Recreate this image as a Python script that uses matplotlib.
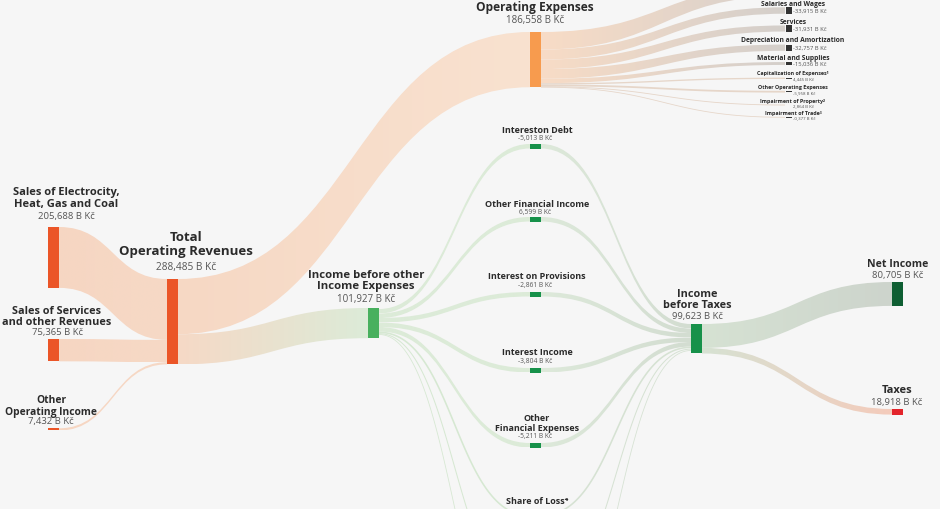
import matplotlib
matplotlib.use('Agg')
import matplotlib.pyplot as plt
import numpy as np
from matplotlib.path import Path
from matplotlib.patches import PathPatch, Rectangle
from matplotlib.colors import to_rgba

plt.rcParams['font.family'] = ['Open Sans', 'DejaVu Sans']

# values in B Kč
revenue_labels = ['Sales of Electrocity,\nHeat, Gas and Coal', 'Sales of Services\nand other Revenues',
                  'Other\nOperating Income']
revenue_values = [205.688, 75.365, 7.432]
total_revenues = 288.485
operating_expenses = 186.558
income_before_other = 101.927

expense_labels = ['Salaries and Wages', 'Services', 'Depreciation and Amortization', 'Material and Supplies',
                  'Capitalization of Expenses¹', 'Other Operating Expenses', 'Impairment of Property²',
                  'Impairment of Trade³']
expense_values = [-33.915, -31.931, -32.757, -15.036, 4.445, -5.958, 2.864, -0.377]

financial_labels = ['Intereston Debt', 'Other Financial Income', 'Interest on Provisions', 'Interest Income',
                    'Other\nFinancial Expenses']
financial_values = [-5.013, 6.599, -2.861, -3.804, -5.211]

income_before_taxes = 99.623
net_income = 80.705
taxes = 18.918

# ---- layout (pixels) ----
K = 0.296       # px per B Kč, main flows
K2 = 0.19       # px per B Kč, expense column
BG = '#f6f6f6'
LABEL = '#2b2b2b'
VALUE = '#555555'

fig = plt.figure(figsize=(9.4, 5.1), dpi=100, facecolor=BG)
ax = fig.add_axes([0, 0, 1, 1])
ax.set_facecolor(BG)
ax.axis('off')


def fmt(v):
    return f'{v:.3f}'.replace('.', ',') + ' B Kč'


def bez(x0, y0, x1, y1, n=80):
    t = np.linspace(0, 1, n)
    xm = (x0 + x1) / 2
    bx = (1-t)**3*x0 + 3*(1-t)**2*t*xm + 3*(1-t)*t**2*xm + t**3*x1
    by = (1-t)**3*y0 + 3*(1-t)**2*t*y0 + 3*(1-t)*t**2*y1 + t**3*y1
    return bx, by


def band(x0, y0a, y0b, x1, y1a, y1b, c0, c1):
    w = max(y0b - y0a, y1b - y1a)
    if w < 2:
        bx, by = bez(x0, (y0a+y0b)/2, x1, (y1a+y1b)/2)
        mid = (np.array(to_rgba(c0)) + np.array(to_rgba(c1))) / 2
        ax.plot(bx, by, color=mid, lw=max(w, 0.6)*0.72, zorder=1, solid_capstyle='butt')
        return
    xm = (x0 + x1) / 2
    verts = [(x0, y0a), (xm, y0a), (xm, y1a), (x1, y1a), (x1, y1b), (xm, y1b), (xm, y0b), (x0, y0b), (x0, y0a)]
    codes = [Path.MOVETO, Path.CURVE4, Path.CURVE4, Path.CURVE4, Path.LINETO,
             Path.CURVE4, Path.CURVE4, Path.CURVE4, Path.CLOSEPOLY]
    patch = PathPatch(Path(verts, codes), facecolor='none', edgecolor='none')
    ax.add_patch(patch)
    g = np.linspace(0, 1, 256)[:, None]
    img = (np.array(to_rgba(c0))*(1-g) + np.array(to_rgba(c1))*g)[None, :, :]
    ys = [y0a, y0b, y1a, y1b]
    im = ax.imshow(img, extent=[x0, x1, max(ys), min(ys)], aspect='auto', zorder=1, interpolation='bilinear')
    im.set_clip_path(patch)


def node(x, y, h, color, w=11):
    ax.add_patch(Rectangle((x, y), w, h, facecolor=color, edgecolor='none', zorder=3))


# columns
X_REV, X_TOR, X_IBO, X_MID, X_IBT, X_OUT, X_EXP = 48, 167, 368, 530, 691, 892, 785
W = 11

# revenues -> total
rev_tops = [228, 340, 429.3]
tor_top = 280
cur = tor_top
for top, v in zip(rev_tops, revenue_values):
    h = v * K
    band(X_REV + W, top, top + h, X_TOR, cur, cur + h, '#f6d6c2', '#f6d9c6')
    node(X_REV, top, h, '#eb5527')
    cur += h
node(X_TOR, tor_top, total_revenues * K, '#eb5527')

# total -> operating expenses / income before other
opex_top = 33
ibo_top = 309
h_opex = operating_expenses * K
h_ibo = income_before_other * K
band(X_TOR + W, tor_top, tor_top + h_opex, X_MID, opex_top, opex_top + h_opex, '#f6d8c4', '#f9e2d0')
band(X_TOR + W, tor_top + h_opex, tor_top + h_opex + h_ibo, X_IBO, ibo_top, ibo_top + h_ibo,
     '#f6d9c6', '#dcebd8')
node(X_MID, opex_top, h_opex, '#f79b4e')
node(X_IBO, ibo_top, h_ibo, '#48b05e')

# operating expenses -> items
exp_centers = [11.5, 29.5, 48.7, 64.5, 79.3, 92.7, 106, 118.3]
rest = operating_expenses - sum(abs(v) for v in expense_values)   # items above the visible area
cur = opex_top
band(X_MID + W, cur, cur + rest * K, X_EXP, -14, -14 + rest * K2, '#f8dcc6', '#d6d0cc')
cur += rest * K
for c, v in zip(exp_centers, expense_values):
    hs = abs(v) * K
    ht = max(abs(v) * K2, 0.8)
    band(X_MID + W, cur, cur + hs, X_EXP, c - ht/2, c + ht/2, '#f8dcc6', '#d4cfcb')
    node(X_EXP + 1, c - ht/2, ht, '#333333', w=5.5)
    cur += hs

# income before other -> financial items -> income before taxes
fin_tops = [145, 218, 293, 369, 444]
fin_h = [max(abs(v) * K, 4.5) for v in financial_values]
ibt_top = 325
h_ibt = income_before_taxes * K
cs, ct = ibo_top + 1, ibt_top
for top, h in zip(fin_tops, fin_h):
    band(X_IBO + W, cs, cs + h, X_MID, top, top + h, '#dcebd8', '#dcebd8')
    band(X_MID + W, top, top + h, X_IBT, ct, ct + h, '#dde9da', '#d3ddd1')
    node(X_MID, top, h, '#17914a')
    cs += h
    ct += h
# share of loss and further items below the visible area
for top, h in zip([516, 600, 680], [1.6, 1.0, 0.8]):
    band(X_IBO + W, cs, cs + h, X_MID, top, top + h, '#d6e8d2', '#d6e8d2')
    band(X_MID + W, top, top + h, X_IBT, ct, ct + h, '#d6e2d3', '#d6e2d3')
    cs += h
    ct += h + 0.5
node(X_IBT, ibt_top, h_ibt, '#17914a')

# income before taxes -> net income / taxes
net_top, tax_top = 283, 410
band(X_IBT + W, ibt_top, ibt_top + net_income * K, X_OUT, net_top, net_top + net_income * K,
     '#d6e2d3', '#cdd4cc')
band(X_IBT + W, ibt_top + net_income * K, ibt_top + h_ibt, X_OUT, tax_top, tax_top + taxes * K,
     '#d6e2d3', '#f4cbbb')
node(X_OUT, net_top, net_income * K, '#0e5e32')
node(X_OUT, tax_top, taxes * K, '#e3242b')


# ---- labels ----
def label(x, y, s, size, weight='bold', color=LABEL, ha='center'):
    ax.text(x, y, s, fontsize=size, fontweight=weight, color=color, ha=ha, va='center',
            linespacing=1.05, zorder=5)


rev_pos = [(66, 198.5, 217, 8), (57, 317, 333, 7.8), (51, 406.5, 422, 7.4)]
for (lx, ly, vy, fs), s, v in zip(rev_pos, revenue_labels, revenue_values):
    label(lx, ly, s, fs)
    label(lx, vy, fmt(v), 6.8, 'normal', VALUE)

label(186, 244.5, 'Total\nOperating Revenues', 9.5)
label(186, 268, fmt(total_revenues), 7.3, 'normal', VALUE)
label(535, 7, 'Operating Expenses', 8.6)
label(535, 21, fmt(operating_expenses), 7, 'normal', VALUE)
label(366, 281, 'Income before other\nIncome Expenses', 8.2)
label(366, 300, fmt(income_before_other), 7, 'normal', VALUE)

fin_label_y = [131, 205, 277, 353, 423.5]
fin_value_y = [139, 213, 286, 362, 437]
for ly, vy, s, v in zip(fin_label_y, fin_value_y, financial_labels, financial_values):
    label(537, ly, s, 6.5)
    label(535, vy, fmt(v), 4.8, 'normal', VALUE)
label(537, 502, 'Share of Loss⁴', 6.5)

label(697, 300, 'Income\nbefore Taxes', 7.8)
label(697, 317, fmt(income_before_taxes), 6.8, 'normal', VALUE)
label(898, 265, 'Net Income', 7.6)
label(898, 276, fmt(net_income), 6.8, 'normal', VALUE)
label(897, 391, 'Taxes', 8)
label(897, 403, fmt(taxes), 6.8, 'normal', VALUE)

exp_label_y = [4, 23, 41, 59, 74, 87, 101, 114]
for i, (ly, c, s, v) in enumerate(zip(exp_label_y, exp_centers, expense_labels, expense_values)):
    big = i < 4
    label(793, ly, s, 4.9 if big else 3.9)
    label(793, c, fmt(v), 4.2 if big else 3.2, 'normal', VALUE, ha='left')

ax.set_xlim(0, 940)
ax.set_ylim(510, 0)
fig.savefig('out.png', dpi=100, facecolor=BG)
